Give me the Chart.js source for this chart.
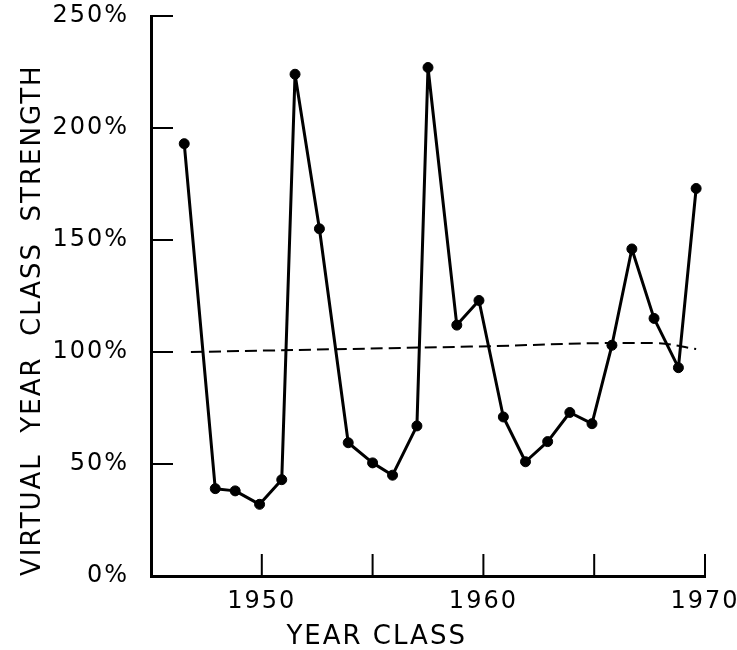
<!DOCTYPE html>
<html>
<head>
<meta charset="utf-8">
<script src="https://cdn.jsdelivr.net/npm/chart.js@4"></script>
<style>
  html, body { margin: 0; padding: 0; background: #fff; }
</style>
</head>
<body>
<canvas id="myChart" width="737" height="650"></canvas>
<script>
// year classes as plotted (the original drawing puts them a bit off the whole years)
var yearClass = [1946.5, 1947.9, 1948.8, 1949.9, 1950.9, 1951.5, 1952.6, 1953.9,
                 1955.0, 1955.9, 1957.0, 1957.5, 1958.8, 1959.8, 1960.9, 1961.9,
                 1962.9, 1963.9, 1964.9, 1965.8, 1966.7, 1967.7, 1968.8, 1969.6];
// virtual year class strength, %
var strength = [193, 39, 38, 32, 43, 224, 155, 59.5,
                50.5, 45, 67, 227, 112, 123, 71, 51,
                60, 73, 68, 103, 146, 115, 93, 173];

// dashed 100% reference line
var avgYears = [1946.8, 1959.4, 1967.7, 1969.6];
var avgLevel = [100, 102.4, 104, 101.3];

var xLabelled = [1950, 1960, 1970];
var yTickValues = [0, 50, 100, 150, 200, 250];

var ctx = document.getElementById('myChart');
var font = 'DejaVu Sans';

var seriesPoints = [];
yearClass.forEach(function(y, i) {
    seriesPoints.push({ x: y, y: strength[i] });
});
var avgPoints = [];
avgYears.forEach(function(y, i) {
    avgPoints.push({ x: y, y: avgLevel[i] });
});

// tick marks on this chart point into the plot
var innerTicks = {
    id: 'innerTicks',
    beforeDatasetsDraw: function(chart) {
        var c = chart.ctx;
        var area = chart.chartArea;
        var xs = chart.scales.x, ys = chart.scales.y;
        c.save();
        c.strokeStyle = '#000';
        c.lineWidth = 2;
        c.beginPath();
        xs.ticks.forEach(function(t) {
            if (t.value <= xs.min) return;
            var px = xs.getPixelForValue(t.value);
            c.moveTo(px, area.bottom);
            c.lineTo(px, area.bottom - 22);
        });
        ys.ticks.forEach(function(t) {
            if (t.value <= ys.min) return;
            var py = ys.getPixelForValue(t.value);
            c.moveTo(area.left, py);
            c.lineTo(area.left + 22, py);
        });
        c.stroke();
        c.restore();
    }
};

// the lettering is widely spaced
var spacing = {
    id: 'spacing',
    beforeDraw: function(chart) {
        chart.ctx.letterSpacing = '2px';
    }
};

new Chart(ctx, {
    type: 'line',
    data: {
        datasets: [{
            data: seriesPoints,
            borderColor: '#000',
            backgroundColor: '#000',
            borderWidth: 3,
            borderJoinStyle: 'round',
            pointRadius: 5,
            pointBorderWidth: 1,
            tension: 0,
            clip: false
        },
        {
            data: avgPoints,
            borderColor: '#000',
            borderWidth: 2,
            borderDash: [12, 6],
            pointRadius: 0,
            tension: 0.4,
            clip: false
        }]
    },
    options: {
        responsive: false,
        animation: false,
        layout: { padding: { left: 0, right: 32, top: 16, bottom: 0 } },
        plugins: {
            legend: { display: false },
            tooltip: { enabled: false }
        },
        scales: {
            x: {
                type: 'linear',
                min: 1945,
                max: 1970,
                grid: { drawOnChartArea: false, drawTicks: false },
                border: { color: '#000', width: 3 },
                ticks: {
                    stepSize: 5,
                    padding: 11,
                    color: '#000',
                    maxRotation: 0,
                    autoSkip: false,
                    font: { family: font, size: 24 },
                    callback: function(v) {
                        return xLabelled.indexOf(v) >= 0 ? String(v) : '';
                    }
                },
                title: {
                    display: true,
                    text: 'YEAR CLASS          ',
                    color: '#000',
                    padding: { top: 0, bottom: 0 },
                    font: { family: font, size: 26, lineHeight: 1 }
                },
                afterFit: function(s) {
                    s.height = 74;
                    s.paddingLeft = 0;
                    s.paddingRight = 0;
                }
            },
            y: {
                min: 0,
                max: 250,
                grid: { drawOnChartArea: false, drawTicks: false },
                border: { color: '#000', width: 3 },
                afterBuildTicks: function(s) {
                    s.ticks = yTickValues.map(function(v) { return { value: v }; });
                },
                ticks: {
                    padding: 22,
                    color: '#000',
                    font: { family: font, size: 24 },
                    callback: function(v) { return v + '%'; }
                },
                title: {
                    display: true,
                    text: 'VIRTUAL  YEAR  CLASS  STRENGTH',
                    align: 'start',
                    color: '#000',
                    padding: { top: 20, bottom: 0 },
                    font: { family: font, size: 26, lineHeight: 1 }
                },
                afterFit: function(s) {
                    s.width = 151;
                    s.paddingTop = 0;
                    s.paddingBottom = 0;
                }
            }
        }
    },
    plugins: [innerTicks, spacing]
});
</script>
</body>
</html>
